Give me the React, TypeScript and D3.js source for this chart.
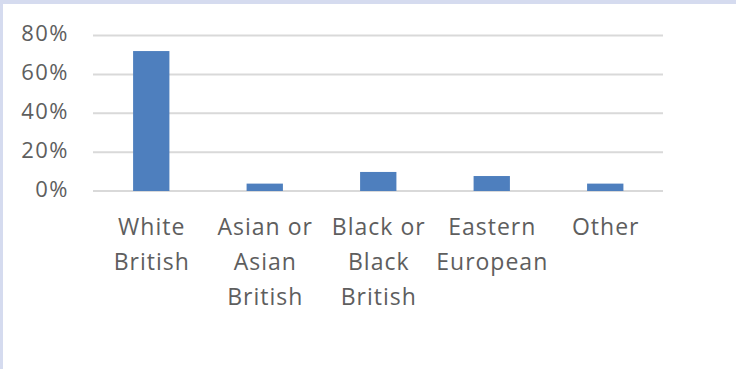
import React from "react";
import * as d3 from "d3";

const categories = ["White British", "Asian or Asian British", "Black or Black British", "Eastern European", "Other"];
const categoryLines = [["White", "British"], ["Asian or", "Asian", "British"], ["Black or", "Black", "British"], ["Eastern", "European"], ["Other"]];
const values = [0.72, 0.038, 0.098, 0.077, 0.038];
const yTicks = [0, 0.2, 0.4, 0.6, 0.8];

const W = 736, H = 369;
const FONT = "'Open Sans', 'Noto Sans', sans-serif";
const LS = 1;

export default function App() {
  const x = d3.scaleBand<string>().domain(categories).range([94.5, 662]).paddingInner(0.68).paddingOuter(0.34);
  const y = d3.scaleLinear().domain([0, 0.8]).range([191, 35.5]);
  const fmt = d3.format(".0%");
  return (
    <svg width={W} height={H} style={{ position: "fixed", left: 0, top: 0, display: "block" }}>
      <rect x={0} y={0} width={W} height={H} fill="#d5dbef" />
      <rect x={3} y={4} width={W - 3} height={H - 4} fill="#ffffff" />
      {yTicks.map((t) => (
        <g key={t}>
          <line x1={93} x2={663} y1={y(t)} y2={y(t)} stroke="#d9d9d9" strokeWidth={2} />
          <text x={68 + LS} y={y(t) + 5.5} textAnchor="end" fontFamily={FONT} fontSize={22} letterSpacing={LS + 0.5} fill="#5e5e5e">
            {fmt(t)}
          </text>
        </g>
      ))}
      {categories.map((c, i) => (
        <rect key={c} x={x(c)} y={y(values[i])} width={x.bandwidth()} height={y(0) - y(values[i])} fill="#4e7fbe" />
      ))}
      {categories.map((c, i) => (
        <text key={c} textAnchor="middle" fontFamily={FONT} fontSize={23} letterSpacing={LS} fill="#5e5e5e">
          {categoryLines[i].map((l, j) => (
            <tspan key={j} x={(x(c) as number) + x.bandwidth() / 2 + LS / 2} y={234.5 + j * 35}>
              {l}
            </tspan>
          ))}
        </text>
      ))}
    </svg>
  );
}
